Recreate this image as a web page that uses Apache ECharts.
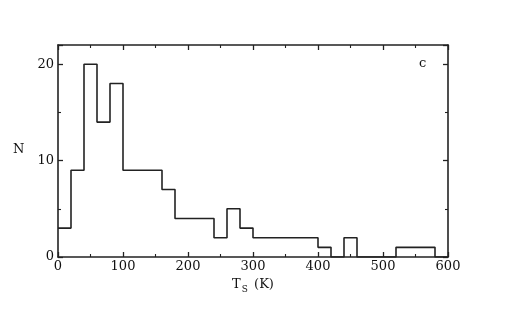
<!DOCTYPE html>
<html lang="en">
  <head>
    <meta charset="UTF-8" />
    <script src="https://cdn.jsdelivr.net/npm/echarts@6/dist/echarts.min.js"></script>
    <title>Ts histogram</title>
    <style>
      html, body { margin: 0; padding: 0; background: #fff; }
    </style>
  </head>
  <body>
    <div id="container" style="width: 518px; height: 311px;"></div>

    <script>
      // histogram bins, 20 K wide (left edge of each bin)
      const binStarts = [
        0, 20, 40, 60, 80, 100, 120, 140, 160, 180, 200, 220, 240, 260, 280,
        300, 320, 340, 360, 380, 400, 420, 440, 460, 480, 500, 520, 540, 560, 580,
      ];
      const counts = [
        3, 9, 20, 14, 18, 9, 9, 9, 7, 4, 4, 4, 2, 5, 3,
        2, 2, 2, 2, 2, 1, 0, 2, 0, 0, 0, 1, 1, 1, 0,
      ];
      const xTicks = [0, 100, 200, 300, 400, 500, 600];
      const yTicks = [0, 10, 20];

      const font = "DejaVu Serif";

      // step line needs a closing point at the last bin edge
      const stepData = binStarts.map((x, i) => [x, counts[i]]);
      stepData.push([600, counts[counts.length - 1]]);

      const myChart = echarts.init(document.getElementById("container"));

      const axisLine = { show: true, onZero: false, lineStyle: { color: "#222", width: 1.6 } };
      const tick = { inside: true, length: 5, lineStyle: { color: "#222", width: 1.3 } };
      const minorTick = { show: true, splitNumber: 2, length: 3, lineStyle: { color: "#222", width: 1.1 } };

      const option = {
        animation: false,
        grid: { left: 58, right: 70, top: 45, bottom: 54 },
        xAxis: [
          {
            type: "value",
            min: xTicks[0],
            max: xTicks[xTicks.length - 1],
            interval: 100,
            axisLine: axisLine,
            axisTick: tick,
            minorTick: minorTick,
            splitLine: { show: false },
            axisLabel: { color: "#111", fontFamily: font, fontSize: 13, margin: 3 },
            name: "{t|T}{s|S}{t| (K)}",
            nameLocation: "middle",
            nameGap: 21,
            nameTextStyle: {
              color: "#111",
              fontFamily: font,
              rich: {
                t: { fontFamily: font, fontSize: 13, color: "#111", verticalAlign: "top" },
                s: { fontFamily: font, fontSize: 9, color: "#111", verticalAlign: "top", padding: [7, 2, 0, 1] },
              },
            },
          },
          {
            type: "value",
            position: "top",
            min: xTicks[0],
            max: xTicks[xTicks.length - 1],
            interval: 100,
            axisLine: axisLine,
            axisTick: tick,
            minorTick: minorTick,
            splitLine: { show: false },
            axisLabel: { show: false },
          },
        ],
        yAxis: [
          {
            type: "value",
            min: 0,
            max: 22,
            interval: 10,
            axisLine: axisLine,
            axisTick: tick,
            minorTick: minorTick,
            splitLine: { show: false },
            axisLabel: {
              color: "#111",
              fontFamily: font,
              fontSize: 13,
              margin: 4,
              formatter: (v) => (yTicks.includes(v) ? String(v) : ""),
            },
          },
          {
            type: "value",
            position: "right",
            min: 0,
            max: 22,
            interval: 10,
            axisLine: axisLine,
            axisTick: tick,
            minorTick: minorTick,
            splitLine: { show: false },
            axisLabel: { show: false },
          },
        ],
        graphic: [
          {
            type: "text",
            left: 13,
            top: 143,
            style: { text: "N", font: "13px " + font, fill: "#111" },
          },
          {
            type: "text",
            left: 419,
            top: 57,
            style: { text: "c", font: "13px " + font, fill: "#111" },
          },
        ],
        series: [
          {
            type: "line",
            step: "end",
            data: stepData,
            symbol: "none",
            lineStyle: { color: "#222", width: 1.6 },
          },
        ],
      };

      myChart.setOption(option);
    </script>
  </body>
</html>
